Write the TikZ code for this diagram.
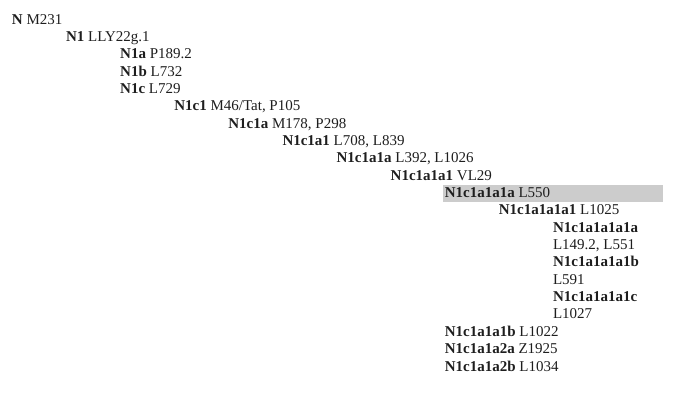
\documentclass[tikz,border=0pt]{standalone}
\usepackage{fontspec}
\setmainfont{Liberation Serif}
\definecolor{ink}{HTML}{1E1E1E}
\definecolor{hl}{HTML}{CCCCCC}
\begin{document}
\begin{tikzpicture}[x=1pt,y=-1pt,
  lbl/.style={anchor=base west,inner sep=0pt,outer sep=0pt,text=ink,font=\fontsize{15}{17}\selectfont}]
\useasboundingbox (0,0) rectangle (700,397);
\fill[hl] (443,184.5) rectangle (663,202);
% level x: 12 + 54.1 k ; baseline: 24 + 17.35 i
\node[lbl] (n0)  at (12,24.0)   {\textbf{N} M231};
\node[lbl] (n1)  at (66.1,41.35) {\textbf{N1} LLY22g.1};
\node[lbl] (n2)  at (120.2,58.7) {\textbf{N1a} P189.2};
\node[lbl] (n3)  at (120.2,76.05) {\textbf{N1b} L732};
\node[lbl] (n4)  at (120.2,93.4) {\textbf{N1c} L729};
\node[lbl] (n5)  at (174.3,110.75) {\textbf{N1c1} M46/Tat, P105};
\node[lbl] (n6)  at (228.4,128.1) {\textbf{N1c1a} M178, P298};
\node[lbl] (n7)  at (282.5,145.45) {\textbf{N1c1a1} L708, L839};
\node[lbl] (n8)  at (336.6,162.8) {\textbf{N1c1a1a} L392, L1026};
\node[lbl] (n9)  at (390.7,180.15) {\textbf{N1c1a1a1} VL29};
\node[lbl] (n10) at (444.8,197.5) {\textbf{N1c1a1a1a} L550};
\node[lbl] (n11) at (498.9,214.85) {\textbf{N1c1a1a1a1} L1025};
\node[lbl] (n12) at (553,232.2) {\textbf{N1c1a1a1a1a}};
\node[lbl] (n13) at (553,249.55) {L149.2, L551};
\node[lbl] (n14) at (553,266.9) {\textbf{N1c1a1a1a1b}};
\node[lbl] (n15) at (553,284.25) {L591};
\node[lbl] (n16) at (553,301.6) {\textbf{N1c1a1a1a1c}};
\node[lbl] (n17) at (553,318.95) {L1027};
\node[lbl] (n18) at (444.8,336.3) {\textbf{N1c1a1a1b} L1022};
\node[lbl] (n19) at (444.8,353.65) {\textbf{N1c1a1a2a} Z1925};
\node[lbl] (n20) at (444.8,371.0) {\textbf{N1c1a1a2b} L1034};
\end{tikzpicture}
\end{document}
